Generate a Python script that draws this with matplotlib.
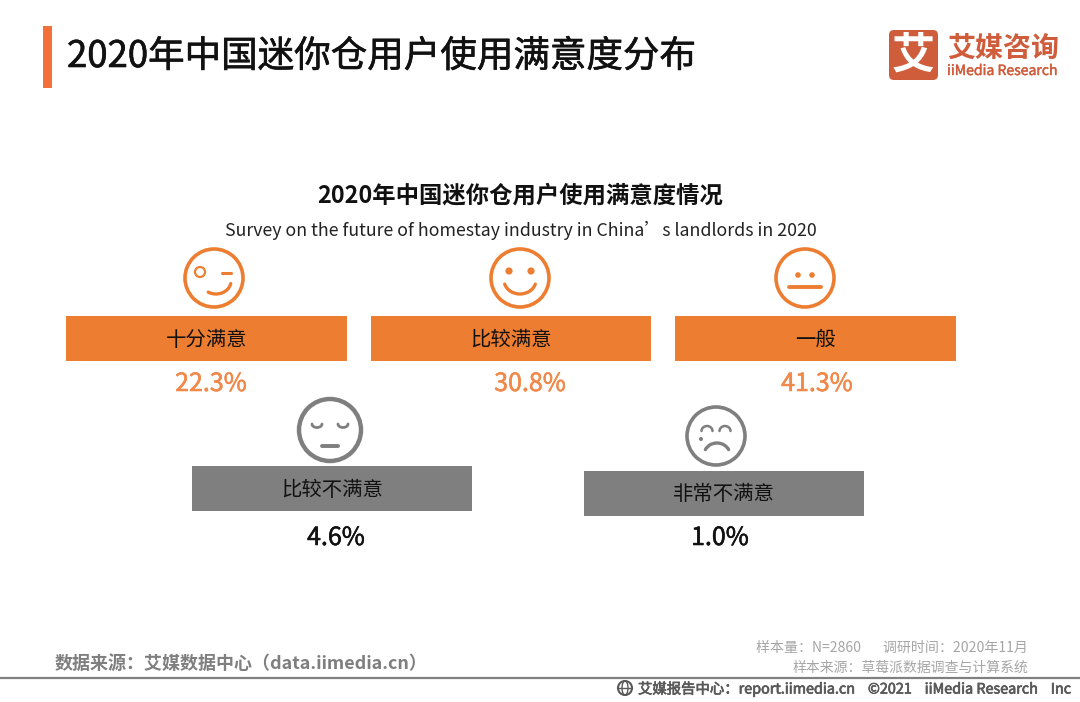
import matplotlib
matplotlib.use("Agg")
import matplotlib.pyplot as plt
import matplotlib.patheffects as pe
from matplotlib.patches import Rectangle, Circle, Arc, Ellipse, FancyBboxPatch

plt.rcParams["font.family"] = ["Noto Sans CJK SC", "DejaVu Sans"]

ORANGE = "#ED7D31"
GREY = "#7F7F7F"

title = "2020年中国迷你仓用户使用满意度分布"
chart_title = "2020年中国迷你仓用户使用满意度情况"
chart_sub = "Survey on the future of homestay industry in China’s landlords in 2020"

categories = ["十分满意", "比较满意", "一般", "比较不满意", "非常不满意"]
shares = [22.3, 30.8, 41.3, 4.6, 1.0]

# layout in pixels, one entry per category
bar_left = [66.2, 370.7, 675.2, 191.7, 583.7]
bar_top = [316, 316, 316, 466, 471]
label_x = [207, 511, 816, 332, 724]
value_x = [211, 530, 817, 336, 720]
face_x = [214, 520, 805, 330, 716]
face_y = [278, 278, 278, 430, 436]
face_r = [29, 29, 29, 31, 29]
BAR_W, BAR_H = 280.5, 45

fig = plt.figure(figsize=(10.8, 7.02), dpi=100)
ax = fig.add_axes([0, 0, 1, 1])
ax.set_xlim(0, 1080)
ax.set_ylim(702, 0)
ax.axis("off")


def heavy(color, w=0.5):
    # the font only has regular and bold, thicken a little
    return [pe.withStroke(linewidth=w, foreground=color)]


def stroke(x0, x1, y, color, lw):
    ax.plot([x0, x1], [y, y], color=color, lw=lw, solid_capstyle="round")


def dot(x, y, r, color):
    ax.add_patch(Circle((x, y), r, color=color, lw=0))


def mouth(x, y, w, h, t1, t2, color, lw=2.4):
    ax.add_patch(Arc((x, y), w, h, theta1=t1, theta2=t2, color=color, lw=lw, capstyle="round"))


# header
ax.add_patch(Rectangle((43, 26), 9, 62, color="#F4703A", lw=0))
ax.text(67, 57, title, fontsize=26.3, color="#111111", va="center", path_effects=heavy("#111111", 0.45))

# logo
ax.add_patch(FancyBboxPatch((889, 30), 49, 50, boxstyle="round,pad=0,rounding_size=5", color="#CF5C3A", lw=0))
ax.text(913.5, 56, "艾", fontsize=31, weight="bold", color="white", ha="center", va="center")
ax.text(947, 49, "艾媒咨询", fontsize=20.2, weight="bold", color="#CF5C3A", va="center")
ax.text(947, 71, "iiMedia Research", fontsize=10.1, color="#CF5C3A", va="center",
        path_effects=heavy("#CF5C3A", 0.3))

# chart headings
ax.text(520.5, 195, chart_title, fontsize=16.8, weight="bold", color="#111111", ha="center", va="center")
ax.text(521, 230, chart_sub, fontsize=12.8, color="#222222", ha="center", va="center")

# cards
for i, cat in enumerate(categories):
    c = ORANGE if i < 3 else GREY
    vc = "#F0894A" if i < 3 else "#111111"
    ax.add_patch(Rectangle((bar_left[i], bar_top[i]), BAR_W, BAR_H, color=c, lw=0))
    ax.text(label_x[i], bar_top[i] + 24, cat, fontsize=14.7, color="#111111", ha="center", va="center")
    ax.text(value_x[i], 384 if i < 3 else 538, f"{shares[i]:.1f}%", fontsize=18,
            color=vc, ha="center", va="center", path_effects=heavy(vc, 0.4))
    lw = 3.2 if i == 3 else 2.6
    ax.add_patch(Circle((face_x[i], face_y[i]), face_r[i], fill=False, ec=c, lw=lw))

# faces
x, y = face_x[0], face_y[0]
ax.add_patch(Circle((x - 14, y - 6), 5, fill=False, ec=ORANGE, lw=1.6))
stroke(x + 8, x + 17, y - 5, ORANGE, 2.2)
mouth(x + 2, y + 3, 30, 26, 10, 125, ORANGE)

x, y = face_x[1], face_y[1]
dot(x - 11, y - 7, 3.6, ORANGE)
dot(x + 11, y - 7, 3.6, ORANGE)
mouth(x, y + 2, 32, 28, 15, 165, ORANGE)

x, y = face_x[2], face_y[2]
dot(x - 7, y - 3, 2.8, ORANGE)
dot(x + 7, y - 3, 2.8, ORANGE)
stroke(x - 16, x + 16, y + 9, ORANGE, 2.8)

x, y = face_x[3], face_y[3]
mouth(x - 13, y - 6, 10, 7, 0, 180, GREY, 2)
mouth(x + 13, y - 6, 10, 7, 0, 180, GREY, 2)
stroke(x - 8, x + 8, y + 16, GREY, 2.8)

x, y = face_x[4], face_y[4]
mouth(x - 9, y - 5, 11, 10, 180, 360, GREY, 1.8)
mouth(x + 9, y - 5, 11, 10, 180, 360, GREY, 1.8)
mouth(x + 1, y + 19, 26, 24, 205, 335, GREY, 2.4)
dot(x - 15, y + 3, 2, GREY)

# footer, \uff1a \uff08 \uff09 are the full width colon and brackets
ax.plot([0, 1080], [678, 678], color="#808080", lw=1.6)
ax.text(55, 664, "数据来源\uff1a艾媒数据中心\uff08data.iimedia.cn\uff09", fontsize=12.95, weight="bold",
        color="#7F7F7F", va="center")
ax.text(1028, 648, "样本量\uff1aN=2860       调研时间\uff1a2020年11月", fontsize=10.1, color="#A6A6A6",
        ha="right", va="center")
ax.text(1028, 668, "样本来源\uff1a草莓派数据调查与计算系统", fontsize=10, color="#A6A6A6", ha="right", va="center")
ax.add_patch(Circle((625, 688), 7, fill=False, ec="#595959", lw=1.5))
ax.add_patch(Ellipse((625, 688), 6, 14, fill=False, ec="#595959", lw=1))
stroke(618, 632, 688, "#595959", 1)
ax.text(638, 689, "艾媒报告中心\uff1areport.iimedia.cn    ©2021    iiMedia Research    Inc", fontsize=10.35,
        color="#595959", va="center", path_effects=heavy("#595959", 0.5))

fig.savefig("out.png", dpi=100)
